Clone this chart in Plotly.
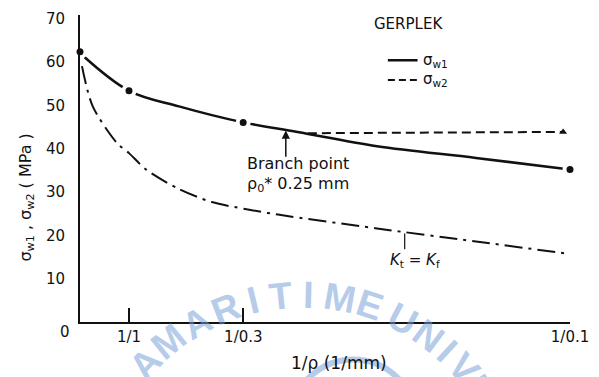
import math
import plotly.graph_objects as go

# sigma_w1: measured points and the fitted curve through them
w1_pts_x = [0, 1, 3.33, 10]
w1_pts_y = [62.4, 53.4, 46.1, 35.2]
w1_curve_x = [0.05, 1, 2.02, 3.33, 4.44, 6.06, 8.08, 10]
w1_curve_y = [61.6, 53.4, 49.8, 46.1, 43.9, 40.6, 37.9, 35.2]

# sigma_w2: branch from the w1 curve, ending at the measured triangle
w2_x = [4.65, 9.86]
w2_y = [43.6, 43.9]

# Kt = Kf prediction
kt_x = [0.04, 0.26, 0.75, 1.0, 1.35, 2.02, 2.69, 3.37, 4.04, 6.06, 8.08, 10.0]
kt_y = [59.1, 49.8, 41.4, 39.0, 35.2, 30.7, 27.7, 26.1, 24.8, 21.6, 18.6, 15.7]

x_tick_vals = [1, 10 / 3, 10]
x_tick_text = ["1/1", "1/0.3", "1/0.1"]
y_tick_vals = [10, 20, 30, 40, 50, 60, 70]

# library stamp printed across the lower part of the page
watermark_letters = ["A", "M", "A", "R", "I", "T", "I", "M", "E", "U", "N", "I", "V", "E"]
watermark_angles = [-48, -39, -30, -21.5, -13.5, -6, 1.5, 10, 18.5, 28, 36.5, 43, 49.5, 56.5]

W, H = 599, 377
L, R, T, B = 80, 24, 10, 55
FONT = "DejaVu Sans, Verdana, sans-serif"
INK = "#111111"
STAMP = "rgba(120,160,215,0.55)"


def px(xp):
    return (xp - L) / (W - L - R)


def py(yp):
    return (H - B - yp) / (H - T - B)


def label(xp, yp, text, size=15, xanchor="center", **kw):
    return dict(x=px(xp), y=py(yp), xref="paper", yref="paper", text=text,
                showarrow=False, xanchor=xanchor, yanchor="middle",
                font=dict(size=size, family=FONT, color=INK), **kw)


fig = go.Figure()

fig.add_trace(go.Scatter(
    x=kt_x, y=kt_y, mode="lines",
    line=dict(color=INK, width=2, dash="18px,6px,3px,6px", shape="spline", smoothing=0.8),
    showlegend=False, hoverinfo="skip"))

fig.add_trace(go.Scatter(
    x=w2_x, y=w2_y, mode="lines",
    line=dict(color=INK, width=2, dash="9px,5px"),
    showlegend=False, hoverinfo="skip"))

fig.add_trace(go.Scatter(
    x=[w2_x[-1]], y=[w2_y[-1]], mode="markers",
    marker=dict(symbol="triangle-up", size=7, color=INK),
    showlegend=False, hoverinfo="skip"))

fig.add_trace(go.Scatter(
    x=w1_curve_x, y=w1_curve_y, mode="lines",
    line=dict(color=INK, width=2.5, shape="spline", smoothing=1.0),
    showlegend=False, hoverinfo="skip"))

fig.add_trace(go.Scatter(
    x=w1_pts_x, y=w1_pts_y, mode="markers",
    marker=dict(symbol="circle", size=11, color=INK, line=dict(color="white", width=4)),
    showlegend=False, hoverinfo="skip", cliponaxis=False))

annotations = [
    label(412, 19, "GERPLEK", size=15),
    label(424, 56, "σ<sub>w1</sub>", size=15, xanchor="left"),
    label(424, 76, "σ<sub>w2</sub>", size=15, xanchor="left"),
    label(247, 161, "Branch point", size=16, xanchor="left"),
    label(247, 182, "ρ<sub>0</sub>* 0.25 mm", size=16, xanchor="left"),
    label(418, 260, "<i>K</i><sub>t</sub> = <i>K</i><sub>f</sub>", size=15),
    label(65, 332, "0", size=15),
    label(342, 364, "1/ρ (1/mm)", size=17),
    label(25, 196, "σ<sub>w1</sub> , σ<sub>w2</sub> ( MPa )", size=16, textangle=-90),
    # branch point arrow
    dict(x=4.2, y=44.2, ax=4.2, ay=37.8, xref="x", yref="y", axref="x", ayref="y",
         text="", showarrow=True, arrowhead=2, arrowsize=1.1, arrowwidth=1.5, arrowcolor=INK),
]

# stamp letters set along an arc
cx, cy, rad = 305, 508, 214
for ch, ang in zip(watermark_letters, watermark_angles):
    a = math.radians(ang)
    annotations.append(dict(
        x=px(cx + rad * math.sin(a)), y=py(cy - rad * math.cos(a)),
        xref="paper", yref="paper", text="<b>" + ch + "</b>", showarrow=False,
        xanchor="center", yanchor="middle", textangle=ang,
        font=dict(size=38, family="Liberation Sans, Arial, sans-serif", color=STAMP)))

shapes = [
    dict(type="circle", xref="paper", yref="paper", layer="below",
         x0=px(356 - 63), x1=px(356 + 63), y0=py(423 + 63), y1=py(423 - 63),
         line=dict(color=STAMP, width=6)),
    dict(type="line", xref="paper", yref="paper", x0=px(391), x1=px(421), y0=py(56), y1=py(56),
         line=dict(color=INK, width=2.5)),
    dict(type="line", xref="paper", yref="paper", x0=px(391), x1=px(421), y0=py(76), y1=py(76),
         line=dict(color=INK, width=2, dash="7px,4px")),
    dict(type="line", xref="paper", yref="paper", x0=px(408), x1=px(408), y0=py(232), y1=py(248),
         line=dict(color=INK, width=1.2)),
]

fig.update_layout(
    width=W, height=H,
    margin=dict(l=L, r=R, t=T, b=B),
    paper_bgcolor="white", plot_bgcolor="rgba(0,0,0,0)",
    showlegend=False,
    annotations=annotations,
    shapes=shapes,
    xaxis=dict(range=[0, 10], showline=True, linecolor=INK, linewidth=2,
               showgrid=False, zeroline=False, ticks="inside", ticklen=14, tickwidth=1.5,
               tickcolor=INK, tickvals=x_tick_vals, ticktext=x_tick_text,
               tickfont=dict(size=15, family=FONT, color=INK)),
    yaxis=dict(range=[0, 70.9], showline=True, linecolor=INK, linewidth=2,
               showgrid=False, zeroline=False, ticks="", tickvals=y_tick_vals,
               ticklabelstandoff=10,
               tickfont=dict(size=15, family=FONT, color=INK)),
)

fig.write_html("out.html")
